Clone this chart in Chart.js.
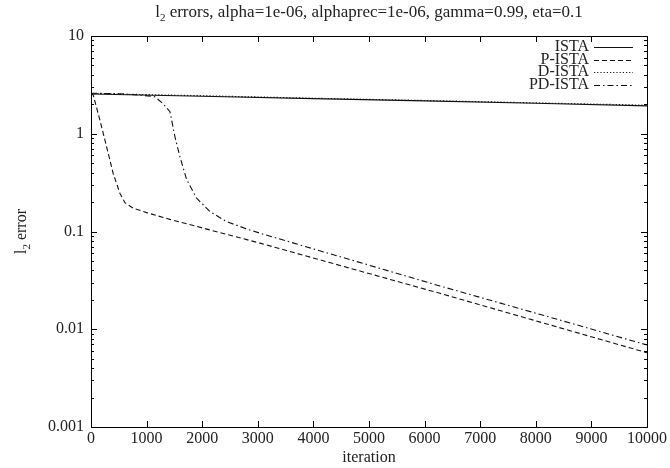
<!DOCTYPE html>
<html>
<head>
<meta charset="utf-8">
<script src="https://cdn.jsdelivr.net/npm/chart.js@4/dist/chart.umd.min.js"></script>
<style>
  html,body{margin:0;padding:0;background:#fff;}
  #wrap{width:670px;height:468px;position:relative;}
</style>
</head>
<body>
<div id="wrap"><canvas id="c" width="670" height="468"></canvas></div>
<script>
// tick values
const xTicks = [0,1000,2000,3000,4000,5000,6000,7000,8000,9000,10000];
const yTicks = [0.001,0.01,0.1,1,10];
const yTickLabels = ["0.001","0.01","0.1","1","10"];

// series
const iterIsta = [0,2000,4000,6000,8000,10000];
const errIsta  = [2.55,2.42,2.29,2.17,2.05,1.93];

const iterP = [0,40,160,280,400,520,610,760,1000,1420,3040,6277,10000];
const errP  = [2.6,2.49,1.38,0.74,0.39,0.246,0.197,0.173,0.156,0.133,0.076,0.0233,0.00575];

const iterD = [0,2000,4000,6000,8000,10000];
const errD  = [2.58,2.45,2.31,2.19,2.07,1.96];

const iterPD = [0,500,900,1150,1300,1420,1510,1600,1720,1900,2140,2440,2860,3040,4500,6277,8000,10000];
const errPD  = [2.6,2.57,2.48,2.39,2.02,1.68,0.93,0.58,0.34,0.219,0.16,0.126,0.1035,0.096,0.0548,0.0277,0.0146,0.0069];

const FONT = "'Liberation Serif','Times New Roman',serif";
const FS = 16;
const INK = "#111";

const pts = (xs,ys)=>xs.map((x,i)=>({x, y:ys[i]}));
function ds(label, xs, ys, dash){
  return { label, data:pts(xs,ys), borderColor:INK, borderWidth:1.1, borderDash:dash,
           pointRadius:0, fill:false, tension:0 };
}

// text "l" + subscript "2" + rest, left aligned at x
function subText(c, x, y, rest, fs){
  c.font=fs+"px "+FONT; const wl=c.measureText("l").width;
  c.fillText("l",x,y);
  c.font="11px "+FONT; const ws=c.measureText("2").width;
  c.fillText("2",x+wl,y+4);
  c.font=fs+"px "+FONT; c.fillText(rest,x+wl+ws,y);
}
function subWidth(c, rest, fs){
  c.font=fs+"px "+FONT; const w=c.measureText("l").width+c.measureText(rest).width;
  c.font="11px "+FONT; return w+c.measureText("2").width;
}

const frame = {
  id:"frame",
  afterDraw(chart){
    const c=chart.ctx, a=chart.chartArea, xs=chart.scales.x, ys=chart.scales.y;
    c.save();
    c.strokeStyle="#000"; c.lineWidth=1;
    c.strokeRect(Math.round(a.left)+0.5, Math.round(a.top)+0.5, Math.round(a.right-a.left), Math.round(a.bottom-a.top));
    c.beginPath();
    // x ticks top and bottom
    xTicks.forEach(v=>{ const px=Math.round(xs.getPixelForValue(v))+0.5;
      c.moveTo(px,a.bottom); c.lineTo(px,a.bottom-6);
      c.moveTo(px,a.top); c.lineTo(px,a.top+6); });
    // y ticks, major + minor, left and right
    for(let e=-3;e<1;e++){
      for(let m=1;m<10;m++){
        const v=m*Math.pow(10,e), py=Math.round(ys.getPixelForValue(v))+0.5, len=(m===1)?6:3;
        c.moveTo(a.left,py); c.lineTo(a.left+len,py);
        c.moveTo(a.right,py); c.lineTo(a.right-len,py);
      }
    }
    c.stroke();

    c.fillStyle="#222"; c.textBaseline="alphabetic"; c.textAlign="left";
    const cx=(a.left+a.right)/2;
    // title
    const tMain=" errors, alpha=1e-06, alphaprec=1e-06, gamma=0.99, eta=0.1";
    subText(c, cx-subWidth(c,tMain,17)/2, 17, tMain, 17);

    // x axis title
    c.font=FS+"px "+FONT; c.textAlign="center"; c.fillText("iteration",cx,462);

    // y axis title, rotated
    c.save();
    c.translate(26,(a.top+a.bottom)/2); c.rotate(-Math.PI/2);
    c.textAlign="left";
    subText(c, -subWidth(c," error",FS)/2, 0, " error", FS);
    c.restore();

    // legend
    c.font=FS+"px "+FONT; c.textAlign="right"; c.textBaseline="middle";
    chart.data.datasets.forEach((d,i)=>{
      const y=47+i*12.5;
      c.fillText(d.label,589,y);
      c.save(); c.strokeStyle=INK; c.lineWidth=1.1; c.setLineDash(d.borderDash||[]);
      c.beginPath(); c.moveTo(594,Math.round(y)+0.5); c.lineTo(633,Math.round(y)+0.5); c.stroke(); c.restore();
    });
    c.restore();
  }
};

new Chart(document.getElementById("c"),{
  type:"line",
  data:{ datasets:[
    ds("ISTA",iterIsta,errIsta,[]),
    ds("P-ISTA",iterP,errP,[5,3]),
    ds("D-ISTA",iterD,errD,[1.2,2]),
    ds("PD-ISTA",iterPD,errPD,[6,3,1.5,3])
  ]},
  options:{
    responsive:false, animation:false, devicePixelRatio:1,
    layout:{ padding:{ top:36, right:23, left:0, bottom:0 } },
    plugins:{ legend:{display:false}, title:{display:false}, tooltip:{enabled:false} },
    scales:{
      x:{ type:"linear", min:0, max:10000,
        afterBuildTicks:s=>{ s.ticks=xTicks.map(v=>({value:v})); },
        afterFit:s=>{ s.height=41; },
        grid:{display:false, drawTicks:false}, border:{display:false},
        ticks:{ font:{family:FONT,size:FS}, color:"#222", padding:2, maxRotation:0, autoSkip:false,
          callback:(v)=>String(v) } },
      y:{ type:"logarithmic", min:0.001, max:10,
        afterBuildTicks:s=>{ s.ticks=yTicks.map(v=>({value:v})); },
        afterFit:s=>{ s.width=91; },
        grid:{display:false, drawTicks:false}, border:{display:false},
        ticks:{ font:{family:FONT,size:FS}, color:"#222", padding:7, autoSkip:false,
          callback:(v)=>{ const i=yTicks.indexOf(v); return i>=0?yTickLabels[i]:""; } } }
    }
  },
  plugins:[frame]
});
</script>
</body>
</html>
